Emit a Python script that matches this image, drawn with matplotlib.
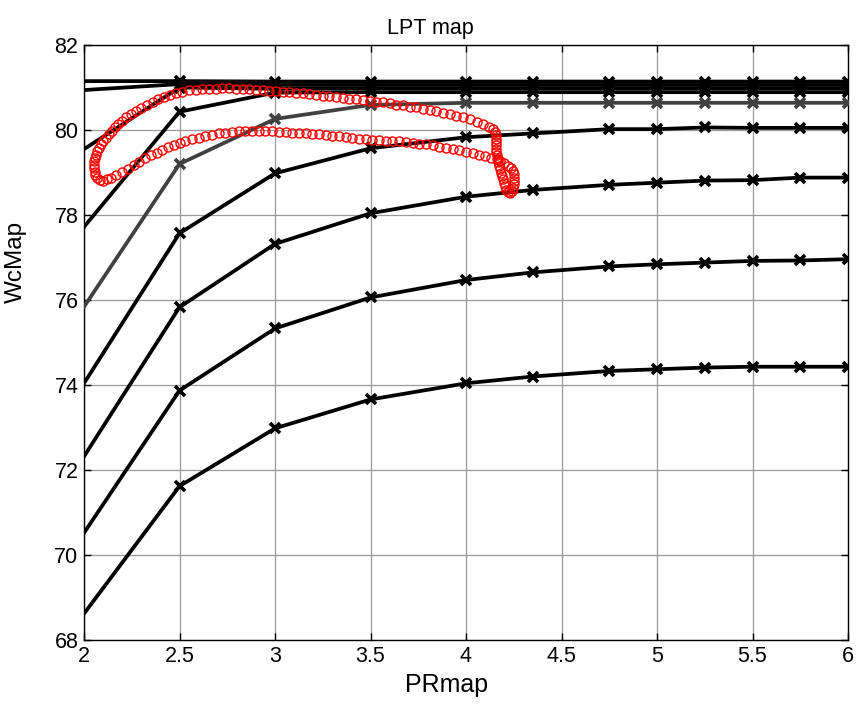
import matplotlib
matplotlib.use("Agg")
import matplotlib.pyplot as plt

plt.rcParams['font.family'] = ['Liberation Sans', 'DejaVu Sans']

# ---- data ----
pr_points = [2, 2.5, 3, 3.5, 4, 4.35, 4.75, 5, 5.25, 5.5, 5.75, 6]

wc_lines = [
    [68.62, 71.62, 72.98, 73.66, 74.04, 74.20, 74.33, 74.37, 74.41, 74.43, 74.43, 74.43],
    [70.52, 73.87, 75.33, 76.06, 76.47, 76.65, 76.79, 76.84, 76.88, 76.92, 76.93, 76.96],
    [72.32, 75.83, 77.32, 78.04, 78.43, 78.59, 78.71, 78.76, 78.81, 78.82, 78.88, 78.88],
    [74.04, 77.57, 78.98, 79.57, 79.83, 79.92, 80.02, 80.02, 80.06, 80.05, 80.05, 80.05],
    [75.84, 79.20, 80.26, 80.59, 80.64, 80.64, 80.64, 80.64, 80.64, 80.64, 80.64, 80.64],
    [77.72, 80.43, 80.88, 80.89, 80.89, 80.89, 80.89, 80.89, 80.89, 80.89, 80.89, 80.89],
    [79.55, 81.00, 80.97, 80.98, 80.98, 80.98, 80.98, 80.98, 80.98, 80.98, 80.98, 80.98],
    [80.94, 81.08, 81.06, 81.06, 81.06, 81.06, 81.06, 81.06, 81.06, 81.06, 81.06, 81.06],
    [81.15, 81.15, 81.14, 81.14, 81.14, 81.14, 81.14, 81.14, 81.14, 81.14, 81.14, 81.14],
]
line_colors = ['black', 'black', 'black', 'black', '#404040', 'black', 'black', 'black', 'black']

# operating-point trajectory (red circles)
traj_pr = [
    2.515, 2.55, 2.585, 2.62, 2.655, 2.69, 2.725, 2.76, 2.795, 2.83, 2.865, 2.90, 2.935, 2.97,
    3.005, 3.04, 3.075, 3.11, 3.145, 3.18, 3.215, 3.25, 3.285, 3.32, 3.355, 3.39, 3.425, 3.46,
    3.495, 3.53, 3.565, 3.60, 3.635, 3.67, 3.705, 3.74, 3.775, 3.81, 3.845, 3.88, 3.915, 3.95,
    3.985, 4.02, 4.055, 4.09, 4.12, 4.14,
    4.15, 4.155, 4.155, 4.155, 4.155, 4.155, 4.155, 4.16, 4.165, 4.17, 4.175, 4.18, 4.185, 4.19,
    4.195, 4.20, 4.205, 4.21, 4.22, 4.23, 4.24, 4.245, 4.25, 4.25, 4.25, 4.25, 4.245, 4.235,
    4.22, 4.20, 4.18, 4.16, 4.13, 4.10,
    4.07, 4.035, 4.00, 3.965, 3.93, 3.895, 3.86, 3.825, 3.79, 3.755, 3.72, 3.685, 3.65, 3.615,
    3.58, 3.545, 3.51, 3.475, 3.44, 3.405, 3.37, 3.335, 3.30, 3.265, 3.23, 3.195, 3.16, 3.125,
    3.09, 3.055, 3.02, 2.985, 2.95, 2.915, 2.88, 2.845, 2.81, 2.775, 2.74, 2.705, 2.67, 2.635,
    2.60, 2.565, 2.53, 2.50, 2.47, 2.44, 2.41, 2.38, 2.35, 2.32, 2.29, 2.26, 2.23, 2.20, 2.17,
    2.14, 2.12, 2.10, 2.085, 2.07, 2.06, 2.055, 2.05, 2.05, 2.052, 2.056, 2.062, 2.07, 2.08,
    2.09, 2.10, 2.115, 2.13, 2.145, 2.16, 2.18, 2.20, 2.22, 2.245, 2.27, 2.30, 2.33, 2.36, 2.39,
    2.42, 2.45, 2.48,
]
traj_wc = [
    80.90, 80.93, 80.95, 80.96, 80.97, 80.97, 80.98, 80.98, 80.97, 80.97, 80.96, 80.95, 80.94, 80.92,
    80.91, 80.90, 80.89, 80.88, 80.86, 80.85, 80.83, 80.81, 80.80, 80.78, 80.76, 80.74, 80.72, 80.71,
    80.69, 80.67, 80.65, 80.63, 80.60, 80.58, 80.55, 80.53, 80.50, 80.47, 80.44, 80.41, 80.38, 80.34,
    80.30, 80.25, 80.20, 80.14, 80.08, 80.02,
    79.95, 79.88, 79.80, 79.72, 79.64, 79.56, 79.48, 79.40, 79.32, 79.24, 79.16, 79.08, 79.00, 78.92,
    78.84, 78.76, 78.68, 78.60, 78.54, 78.52, 78.56, 78.64, 78.72, 78.80, 78.88, 78.96, 79.04, 79.10,
    79.16, 79.22, 79.27, 79.31, 79.35, 79.38,
    79.42, 79.46, 79.49, 79.52, 79.55, 79.58, 79.61, 79.64, 79.66, 79.68, 79.70, 79.72, 79.73, 79.74,
    79.75, 79.76, 79.77, 79.79, 79.80, 79.82, 79.84, 79.86, 79.87, 79.89, 79.90, 79.91, 79.92, 79.93,
    79.94, 79.95, 79.96, 79.97, 79.97, 79.98, 79.98, 79.98, 79.97, 79.96, 79.94, 79.92, 79.89, 79.86,
    79.82, 79.78, 79.74, 79.70, 79.65, 79.60, 79.54, 79.47, 79.40, 79.33, 79.25, 79.17, 79.09, 79.01, 78.94,
    78.88, 78.84, 78.81, 78.82, 78.87, 78.94, 79.02, 79.10, 79.18, 79.26, 79.34, 79.42, 79.50, 79.58,
    79.66, 79.74, 79.82, 79.90, 79.98, 80.06, 80.14, 80.22, 80.30, 80.38, 80.45, 80.52, 80.59, 80.66, 80.72,
    80.78, 80.83, 80.87,
]

x_ticks = [2, 2.5, 3, 3.5, 4, 4.5, 5, 5.5, 6]
x_ticklabels = ['2', '2.5', '3', '3.5', '4', '4.5', '5', '5.5', '6']
y_ticks = [68, 70, 72, 74, 76, 78, 80, 82]

# ---- figure ----
fig = plt.figure(figsize=(8.58, 7.13), dpi=100)
ax = fig.add_axes([84 / 858, 1 - 640 / 713, (848 - 84) / 858, (640 - 45) / 713])

for wc, col in zip(wc_lines, line_colors):
    ax.plot(pr_points, wc, color=col, lw=2.7, marker='x', markersize=7,
            markeredgewidth=2.6, markevery=slice(1, None), zorder=3)

ax.plot(traj_pr, traj_wc, linestyle='none', marker='o', markersize=6.5,
        markerfacecolor='none', markeredgecolor='red', markeredgewidth=1.0, zorder=4)

ax.set_xlim(2, 6)
ax.set_ylim(68, 82)
ax.set_xticks(x_ticks)
ax.set_xticklabels(x_ticklabels)
ax.set_yticks(y_ticks)
ax.grid(True, color='#9a9a9a', lw=0.9)
ax.set_axisbelow(True)
ax.tick_params(direction='in', top=True, right=True, length=5, width=1,
               labelsize=15.5, pad=4)
for s in ax.spines.values():
    s.set_linewidth(1.0)

ax.set_title('LPT map', fontsize=15.5, x=0.453, y=1.0, pad=8)
ax.set_xlabel('PRmap', fontsize=18, labelpad=4)
ax.xaxis.set_label_coords(0.474, -0.055)
ax.set_ylabel('WcMap', fontsize=17.5, labelpad=8)
ax.yaxis.set_label_coords(-0.075, 0.635)

fig.savefig('out.png', dpi=100)
